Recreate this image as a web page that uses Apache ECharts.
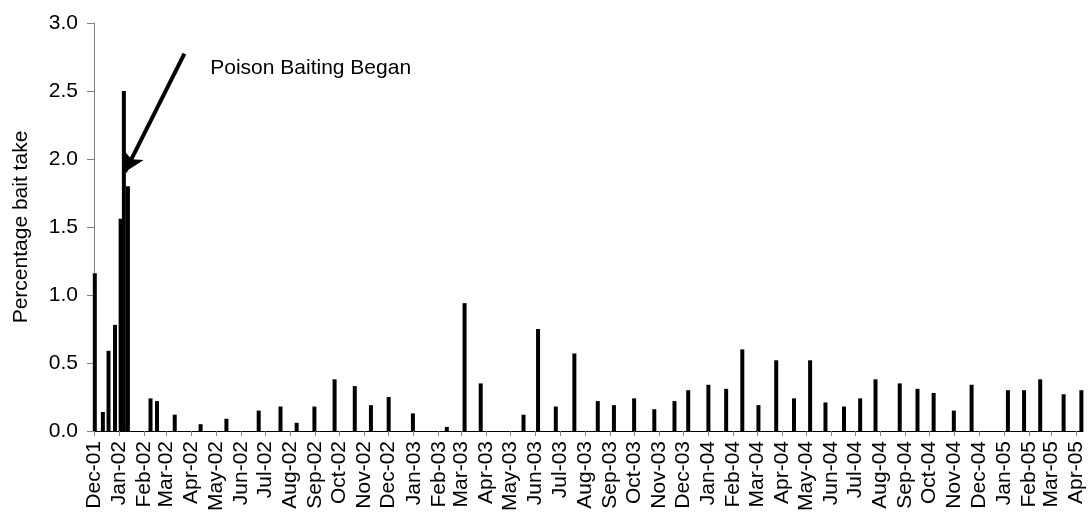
<!DOCTYPE html>
<html>
<head>
<meta charset="utf-8">
<script src="https://cdn.jsdelivr.net/npm/echarts@6/dist/echarts.min.js"></script>
<style>
html,body{margin:0;padding:0;background:#fff;}
#chart{width:1088px;height:515px;}
</style>
</head>
<body>
<div id="chart"></div>
<script>
// Sampling dates and percentage bait take
const sampleDates = [
  '2001-12-02','2001-12-12','2001-12-19','2001-12-27','2002-01-03','2002-01-07','2002-01-12',
  '2002-02-09','2002-02-17','2002-03-11','2002-04-12','2002-05-14','2002-06-23','2002-07-20',
  '2002-08-09','2002-08-31','2002-09-25','2002-10-20','2002-11-09','2002-12-01','2002-12-31',
  '2003-02-11','2003-03-05','2003-03-25','2003-05-17','2003-06-04','2003-06-26','2003-07-19',
  '2003-08-17','2003-09-06','2003-10-01','2003-10-26','2003-11-20','2003-12-07','2004-01-01',
  '2004-01-23','2004-02-12','2004-03-03','2004-03-25','2004-04-16','2004-05-06','2004-05-25',
  '2004-06-17','2004-07-07','2004-07-26','2004-08-25','2004-09-16','2004-10-06','2004-10-31',
  '2004-11-22','2005-01-06','2005-01-26','2005-02-15','2005-03-16','2005-04-07'
];
const baitTake = [
  1.16,0.14,0.59,0.78,1.56,2.50,1.80,
  0.24,0.22,0.12,0.05,0.09,0.15,0.18,
  0.06,0.18,0.38,0.33,0.19,0.25,0.13,
  0.03,0.94,0.35,0.12,0.75,0.18,0.57,
  0.22,0.19,0.24,0.16,0.22,0.30,0.34,
  0.31,0.60,0.19,0.52,0.24,0.52,0.21,
  0.18,0.24,0.38,0.35,0.31,0.28,0.15,
  0.34,0.30,0.30,0.38,0.27,0.30
];
const tickLabels = [
  'Dec-01','Jan-02','Feb-02','Mar-02','Apr-02','May-02','Jun-02','Jul-02','Aug-02','Sep-02','Oct-02','Nov-02',
  'Dec-02','Jan-03','Feb-03','Mar-03','Apr-03','May-03','Jun-03','Jul-03','Aug-03','Sep-03','Oct-03','Nov-03',
  'Dec-03','Jan-04','Feb-04','Mar-04','Apr-04','May-04','Jun-04','Jul-04','Aug-04','Sep-04','Oct-04','Nov-04',
  'Dec-04','Jan-05','Feb-05','Mar-05','Apr-05'
];
const yTicks = [0, 0.5, 1.0, 1.5, 2.0, 2.5, 3.0];
const annotationText = 'Poison Baiting Began';
const arrowFrom = ['2002-03-23', 2.775];
const arrowTo = ['2002-01-08T10:00:00', 1.905];
const textAnchor = ['2002-04-24', 2.67];

const monthNames = ['Jan','Feb','Mar','Apr','May','Jun','Jul','Aug','Sep','Oct','Nov','Dec'];
const toTime = s => new Date((s.length > 10 ? s : s + 'T00:00:00') + 'Z').getTime();
function labelToTime(l){
  const m = monthNames.indexOf(l.slice(0,3));
  const y = 2000 + parseInt(l.slice(4),10);
  return Date.UTC(y, m, 1);
}
const tickTimes = tickLabels.map(labelToTime);
const labelByTime = {};
tickTimes.forEach((t,i)=>{ labelByTime[t] = tickLabels[i]; });

const FONT = 'Liberation Sans, Arial, sans-serif';
const FS = 21;
const chart = echarts.init(document.getElementById('chart'));
chart.setOption({
  animation: false,
  grid: { left: 94, right: 5, top: 23, bottom: 84, outerBoundsMode: 'none' },
  xAxis: {
    type: 'value',
    min: toTime('2001-12-01'),
    max: toTime('2005-04-09'),
    axisLine: { show: true, onZero: false, lineStyle: { color: '#000', width: 1 } },
    axisTick: { show: true, customValues: tickTimes, length: 5, lineStyle: { color: '#808080' } },
    axisLabel: {
      customValues: tickTimes,
      rotate: 90,
      margin: 10,
      showMinLabel: true, showMaxLabel: true,
      fontFamily: FONT, fontSize: FS, color: '#000',
      formatter: v => labelByTime[v] || ''
    },
    splitLine: { show: false }
  },
  yAxis: {
    type: 'value',
    min: 0, max: 3, interval: 0.5,
    name: 'Percentage bait take',
    nameLocation: 'middle',
    nameRotate: 90,
    nameGap: 62,
    nameTextStyle: { fontFamily: FONT, fontSize: FS, color: '#000' },
    axisLine: { show: true, lineStyle: { color: '#808080', width: 1 } },
    axisTick: { show: true, length: 7, lineStyle: { color: '#808080' } },
    axisLabel: {
      margin: 16, fontFamily: FONT, fontSize: FS, color: '#000',
      formatter: v => yTicks.indexOf(v) >= 0 ? v.toFixed(1) : ''
    },
    splitLine: { show: false }
  },
  series: [{
    type: 'bar',
    barWidth: 4,
    itemStyle: { color: '#000' },
    data: sampleDates.map((d,i)=>[toTime(d), baitTake[i]]),
    markLine: {
      silent: true,
      symbol: ['none','arrow'],
      symbolSize: [17, 19],
      lineStyle: { color: '#000', width: 4, type: 'solid' },
      label: { show: false },
      data: [[
        { coord: [toTime(arrowFrom[0]), arrowFrom[1]] },
        { coord: [toTime(arrowTo[0]), arrowTo[1]] }
      ]]
    },
    markPoint: {
      silent: true,
      symbol: 'circle',
      symbolSize: 0,
      itemStyle: { color: 'transparent' },
      label: {
        show: true, position: 'right', distance: 0,
        fontFamily: FONT, fontSize: FS, color: '#000',
        formatter: annotationText
      },
      data: [{ coord: [toTime(textAnchor[0]), textAnchor[1]] }]
    }
  }]
});
</script>
</body>
</html>
